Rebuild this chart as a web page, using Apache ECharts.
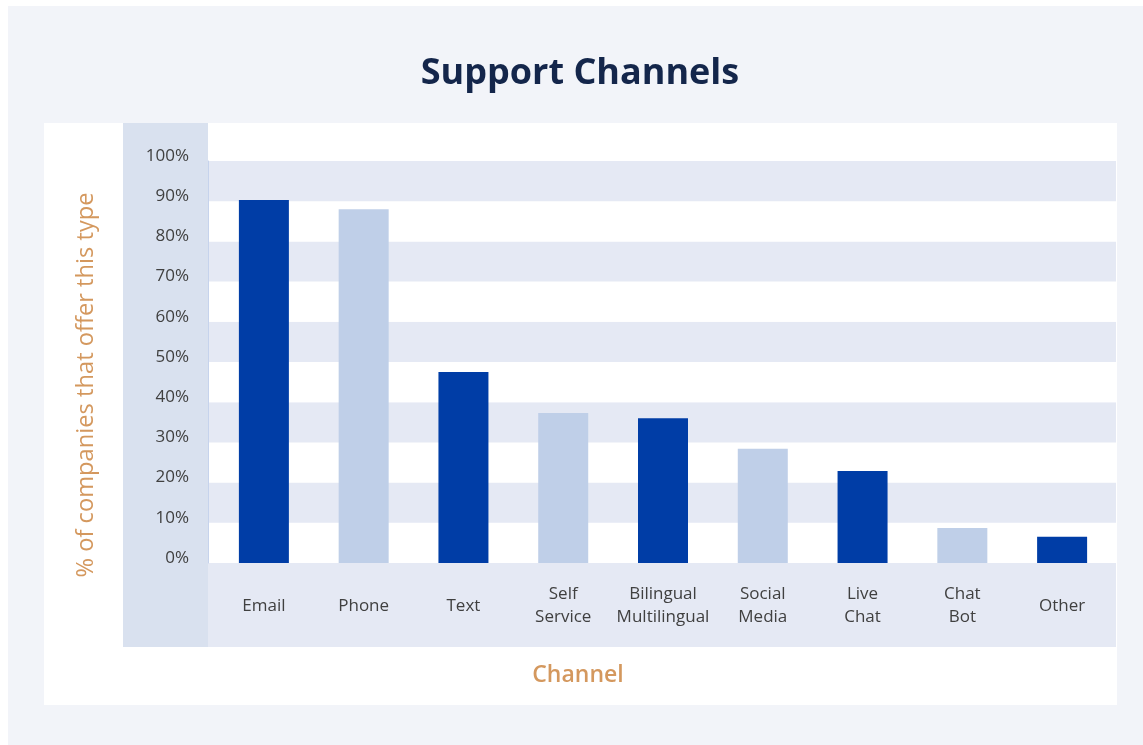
<!DOCTYPE html>
<html><head><meta charset="utf-8">
<script src="https://cdn.jsdelivr.net/npm/echarts@6/dist/echarts.min.js"></script>
<style>html,body{margin:0;padding:0;background:#fff}#c{width:1143px;height:745px}</style>
</head><body><div id="c"></div>
<script>
const categories = ['Email', 'Phone', 'Text', 'Self\nService', 'Bilingual\nMultilingual', 'Social\nMedia', 'Live\nChat', 'Chat\nBot', 'Other'];
const values = [90.3, 88, 47.5, 37.3, 36, 28.4, 22.9, 8.7, 6.5];
const barColors = ['#003da6', '#bfcfe8', '#003da6', '#bfcfe8', '#003da6', '#bfcfe8', '#003da6', '#bfcfe8', '#003da6'];
const yMin = 0, yMax = 100, yStep = 10;
const titleText = 'Support Channels';
const yName = '% of companies that offer this type';
const xName = 'Channel';

const chart = echarts.init(document.getElementById('c'), null, {renderer: 'canvas'});
const labelFont = 'Open Sans';
chart.setOption({
  backgroundColor: '#ffffff',
  animation: false,
  title: {
    text: titleText, left: 575, top: 51, textAlign: 'center',
    textStyle: {fontFamily: 'Open Sans', fontWeight: 'bold', fontSize: 36, color: '#14264b'}
  },
  graphic: [
    {type: 'rect', z: -10, silent: true, shape: {x: 8, y: 6, width: 1135, height: 739}, style: {fill: '#f2f4f9'}},
    {type: 'rect', z: -9, silent: true, shape: {x: 44, y: 123, width: 1073, height: 582}, style: {fill: '#ffffff'}},
    {type: 'rect', z: -8, silent: true, shape: {x: 123, y: 123, width: 85, height: 524}, style: {fill: '#d9e1ef'}},
    {type: 'rect', z: -8, silent: true, shape: {x: 208, y: 563, width: 908, height: 84}, style: {fill: '#e5e9f4'}},
    {type: 'text', z: 5, silent: true, x: 86, y: 385, rotation: Math.PI / 2,
      style: {text: yName, fontFamily: labelFont, fontSize: 23.7, fill: '#d4985e', align: 'center', verticalAlign: 'middle'}},
    {type: 'text', z: 5, silent: true, x: 578, y: 675,
      style: {text: xName, fontFamily: labelFont, fontSize: 23, fontWeight: 600, fill: '#d4985e', align: 'center', verticalAlign: 'middle'}}
  ],
  grid: [
    {left: 208, right: 27, top: 161, bottom: 182},
    {left: 214, right: 31, top: 161, bottom: 182}
  ],
  xAxis: [
    {gridIndex: 0, type: 'value', show: false, min: 0, max: 1},
    {gridIndex: 1, type: 'category', data: categories,
      axisLine: {show: false}, axisTick: {show: false},
      axisLabel: {interval: 0, margin: 43, verticalAlign: 'middle', lineHeight: 23, fontFamily: labelFont, fontSize: 17, color: '#404040'}}
  ],
  yAxis: [
    {gridIndex: 0, type: 'value', min: yMin, max: yMax, interval: yStep,
      axisLine: {show: true, lineStyle: {color: '#c6d3ec', width: 1}},
      axisTick: {show: false},
      splitLine: {show: false},
      splitArea: {show: true, areaStyle: {color: ['#ffffff', '#e5e9f4']}},
      axisLabel: {formatter: '{value}%', margin: 19, verticalAlign: 'bottom', lineHeight: 10, fontFamily: labelFont, fontSize: 17, color: '#404040'}},
    {gridIndex: 1, type: 'value', min: yMin, max: yMax, interval: yStep, show: false, splitLine: {show: false}}
  ],
  series: [{
    type: 'bar', xAxisIndex: 1, yAxisIndex: 1, barWidth: 50,
    data: values.map((v, i) => ({value: v, itemStyle: {color: barColors[i]}}))
  }]
});
</script></body></html>
